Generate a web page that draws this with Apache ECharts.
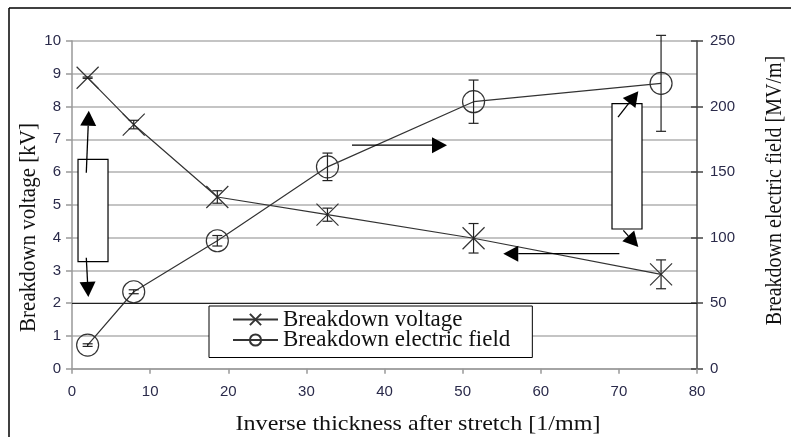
<!DOCTYPE html>
<html>
<head>
<meta charset="utf-8">
<script src="https://cdn.jsdelivr.net/npm/echarts@6/dist/echarts.min.js"></script>
<style>html,body{margin:0;padding:0;background:#fff;}#c{width:791px;height:437px;}</style>
</head>
<body>
<div id="c"></div>
<script>
// ---- data ----
const thickness = [2.0, 7.9, 18.6, 32.7, 51.4, 75.4];            // inverse thickness [1/mm]
const voltage = [8.88, 7.45, 5.24, 4.70, 3.98, 2.88];            // breakdown voltage [kV]
const voltageErr = [0.02, 0.13, 0.19, 0.2, 0.45, 0.44];
const field = [18, 58.7, 97.6, 154, 203.7, 217.7];               // breakdown field [MV/m]
const fieldErr = [1, 1.5, 4, 10.5, 16.5, 36.6];
const xTicks = [0, 80, 10];
const leftTicks = [0, 10, 1];
const rightTicks = [0, 250, 50];

// annotation shapes, in data units (x, kV)
const annoRects = [[0.77, 6.39, 4.61, 3.27], [69.12, 8.086, 72.96, 4.263]];
const annoArrows = [
  [[1.83, 5.98], [2.15, 7.87]],
  [[1.83, 3.385], [2.09, 2.19]],
  [[35.84, 6.82], [48.0, 6.82]],
  [[70.06, 3.51], [55.2, 3.51]],
  [[69.89, 7.676], [72.49, 8.47]],
  [[70.57, 4.22], [72.49, 3.713]]
];

const serif = '"Liberation Serif", "Times New Roman", serif';
const sans = '"Liberation Sans", Arial, sans-serif';
const labelColor = '#2a2a4a';
const ink = '#333';

const chart = echarts.init(document.getElementById('c'), null, {renderer: 'canvas'});

function errRender(params, api) {
  const x = api.value(0), lo = api.value(1), hi = api.value(2);
  const a = api.coord([x, hi]), b = api.coord([x, lo]);
  const w = 5;
  const st = {stroke: '#222', lineWidth: 1.2};
  return {type: 'group', children: [
    {type: 'line', shape: {x1: a[0], y1: a[1], x2: b[0], y2: b[1]}, style: st},
    {type: 'line', shape: {x1: a[0] - w, y1: a[1], x2: a[0] + w, y2: a[1]}, style: st},
    {type: 'line', shape: {x1: b[0] - w, y1: b[1], x2: b[0] + w, y2: b[1]}, style: st}
  ]};
}

const option = {
  animation: false,
  backgroundColor: '#fff',
  grid: {left: 72, right: 94, top: 41, bottom: 68.3, containLabel: false},
  legend: {
    orient: 'vertical', left: 209, top: 306,
    backgroundColor: '#fff', borderColor: '#000', borderWidth: 1,
    padding: [2, 22, 6, 23], itemWidth: 45, itemHeight: 14, itemGap: -2.5,
    textStyle: {fontFamily: serif, fontSize: 23, color: '#111'},
    data: ['Breakdown voltage', 'Breakdown electric field']
  },
  xAxis: {
    type: 'value', min: xTicks[0], max: xTicks[1], interval: xTicks[2],
    axisLine: {lineStyle: {color: '#999', width: 1.5}},
    axisTick: {show: true, length: 5, lineStyle: {color: '#999', width: 1.5}},
    axisLabel: {fontFamily: sans, fontSize: 15, color: labelColor, margin: 16},
    splitLine: {show: false}
  },
  yAxis: [
    {
      type: 'value', min: leftTicks[0], max: leftTicks[1], interval: leftTicks[2],
      position: 'left',
      axisLine: {show: true, lineStyle: {color: '#999', width: 1.5}},
      axisTick: {show: true, length: 6, lineStyle: {color: '#999', width: 1.5}},
      axisLabel: {fontFamily: sans, fontSize: 15, color: labelColor, margin: 11},
      splitLine: {show: true, lineStyle: {color: '#b0b0b0', width: 1.5}}
    },
    {
      type: 'value', min: rightTicks[0], max: rightTicks[1], interval: rightTicks[2],
      position: 'right',
      axisLine: {show: true, lineStyle: {color: '#444', width: 1.5}},
      axisTick: {show: true, length: 6, lineStyle: {color: '#444', width: 1.5}},
      axisLabel: {fontFamily: sans, fontSize: 15, color: labelColor, margin: 13},
      splitLine: {show: false}
    },
    {
      type: 'value', min: rightTicks[0], max: rightTicks[1], interval: rightTicks[2],
      position: 'right',
      axisLine: {show: false},
      axisTick: {show: true, inside: true, length: 6, lineStyle: {color: '#444', width: 1.5}},
      axisLabel: {show: false},
      splitLine: {show: false}
    }
  ],
  series: [
    {
      name: 'Breakdown voltage', type: 'line', yAxisIndex: 0,
      data: thickness.map((x, i) => [x, voltage[i]]),
      symbol: 'path://M0 0L20 20M20 0L0 20', symbolSize: 22,
      lineStyle: {color: ink, width: 1.2},
      itemStyle: {color: 'rgba(255,255,255,0)', borderColor: ink, borderWidth: 1.2},
      z: 3,
      markLine: {
        silent: true, symbol: 'none', label: {show: false},
        lineStyle: {color: '#222', width: 1.2, type: 'solid'},
        data: [{yAxis: 2}]
      }
    },
    {
      name: 'Breakdown electric field', type: 'line', yAxisIndex: 1,
      data: thickness.map((x, i) => [x, field[i]]),
      symbol: 'circle', symbolSize: 22,
      lineStyle: {color: ink, width: 1.2},
      itemStyle: {color: 'rgba(255,255,255,0)', borderColor: ink, borderWidth: 1.2},
      z: 3
    },
    {
      type: 'custom', yAxisIndex: 0, renderItem: errRender, z: 4,
      encode: {x: 0, y: [1, 2]},
      data: thickness.map((x, i) => [x, voltage[i] - voltageErr[i], voltage[i] + voltageErr[i]])
    },
    {
      type: 'custom', yAxisIndex: 1, renderItem: errRender, z: 4,
      encode: {x: 0, y: [1, 2]},
      data: thickness.map((x, i) => [x, field[i] - fieldErr[i], field[i] + fieldErr[i]])
    }
  ]
};
chart.setOption(option);

// ---- annotations & titles ----
function px(p) { return chart.convertToPixel({xAxisIndex: 0, yAxisIndex: 0}, p); }
const g = [];
annoRects.forEach(r => {
  const a = px([r[0], r[1]]), b = px([r[2], r[3]]);
  g.push({type: 'rect', z: 10,
    shape: {x: Math.min(a[0], b[0]), y: Math.min(a[1], b[1]), width: Math.abs(b[0] - a[0]), height: Math.abs(b[1] - a[1])},
    style: {fill: '#fff', stroke: '#000', lineWidth: 1.2}});
});
annoArrows.forEach(ar => {
  const s = px(ar[0]), t = px(ar[1]);
  const dx = t[0] - s[0], dy = t[1] - s[1], len = Math.hypot(dx, dy);
  const ux = dx / len, uy = dy / len, L = 15, W = 8;
  const bx = t[0] - ux * L, by = t[1] - uy * L;
  g.push({type: 'line', z: 10, shape: {x1: s[0], y1: s[1], x2: bx, y2: by}, style: {stroke: '#000', lineWidth: 1.3}});
  g.push({type: 'polygon', z: 10, shape: {points: [[t[0], t[1]], [bx - uy * W, by + ux * W], [bx + uy * W, by - ux * W]]}, style: {fill: '#000'}});
});
// page frame
g.push({type: 'line', shape: {x1: 9, y1: 8, x2: 791, y2: 8}, style: {stroke: '#000', lineWidth: 1.5}});
g.push({type: 'line', shape: {x1: 9, y1: 8, x2: 9, y2: 437}, style: {stroke: '#000', lineWidth: 1.5}});
// axis titles
const tStyle = (txt, size) => ({text: txt, fontFamily: serif, fontSize: size, fill: '#111',
  textAlign: 'center', textVerticalAlign: 'middle', align: 'center', verticalAlign: 'middle'});
g.push({type: 'text', x: 418, y: 424, scaleX: 1.146, style: tStyle('Inverse thickness after stretch [1/mm]', 21)});
g.push({type: 'text', x: 29, y: 227.5, rotation: Math.PI / 2, scaleY: 1.12, style: tStyle('Breakdown voltage [kV]', 21)});
g.push({type: 'text', x: 775, y: 190.5, rotation: Math.PI / 2, scaleY: 1.12, style: tStyle('Breakdown electric field [MV/m]', 20)});
chart.setOption({graphic: {elements: g}});
</script>
</body>
</html>
